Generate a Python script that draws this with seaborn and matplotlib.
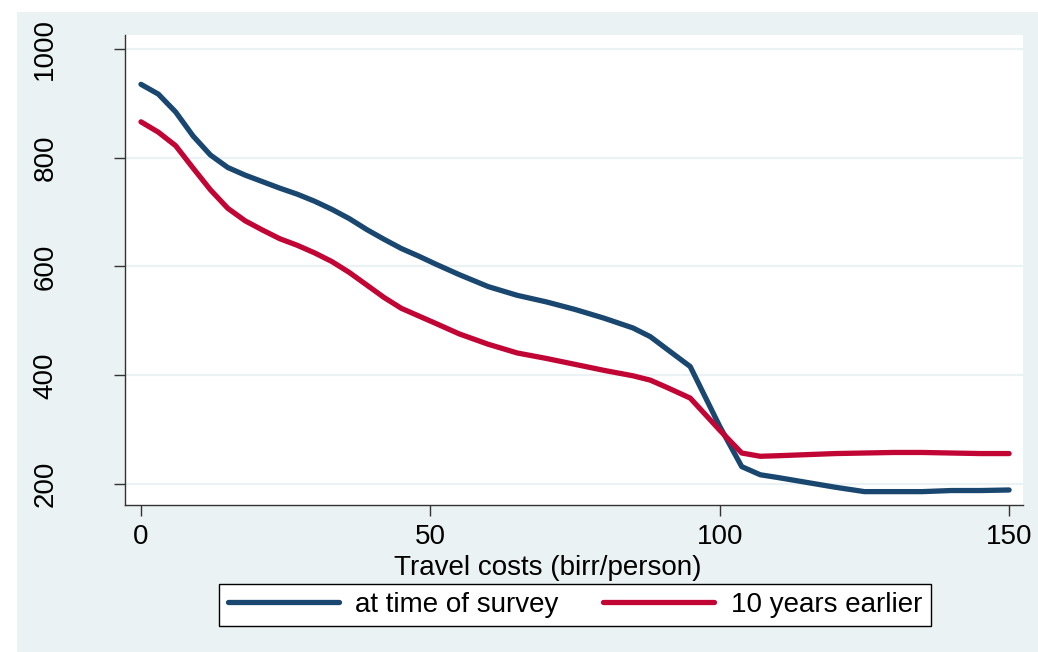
import numpy as np
import pandas as pd
import seaborn as sns
import matplotlib.pyplot as plt
from matplotlib.patches import Rectangle

# travel cost (birr/person) and visits for both periods
travel_cost = [0, 3, 6, 9, 12, 15, 18, 21, 24, 27, 30, 33, 36, 39, 42, 45, 48,
               51, 55, 60, 65, 70, 75, 80, 85, 88, 91, 94.9, 100, 103.8, 107,
               110, 115, 120, 125, 130, 135, 140, 145, 150]
at_survey = [935, 917, 884, 840, 805, 782, 768, 756, 744, 733, 720, 705, 688,
             668, 650, 633, 619, 604, 585, 563, 547, 535, 521, 505, 487, 471,
             447, 416, 306, 232, 217, 212, 203, 194, 186, 186, 186, 188, 188, 189]
ten_years_earlier = [866, 847, 822, 781, 741, 707, 684, 667, 651, 639, 625, 609,
                     589, 566, 543, 523, 509, 495, 476, 457, 441, 431, 420, 409,
                     399, 391, 377, 358, 299, 257, 251, 252, 254, 256, 257, 258,
                     258, 257, 256, 256]
series_names = ["at time of survey", "10 years earlier"]
y_ticks = [200, 400, 600, 800, 1000]
x_ticks = [0, 50, 100, 150]

BG = "#EAF2F3"
colors = {"at time of survey": "#1A476F", "10 years earlier": "#C10534"}

df = pd.concat([
    pd.DataFrame({"cost": travel_cost, "value": at_survey, "series": series_names[0]}),
    pd.DataFrame({"cost": travel_cost, "value": ten_years_earlier, "series": series_names[1]}),
])

sns.set_theme(style="ticks")
plt.rcParams['font.family'] = ['Liberation Sans', 'DejaVu Sans']
plt.rcParams['text.color'] = 'black'

W, H = 1038, 652
FS = 20
fig = plt.figure(figsize=(W / 100, H / 100), dpi=100, facecolor="white")
fig.patches.append(Rectangle((17 / W, 0), 1 - 17 / W, 1 - 12 / H,
                             transform=fig.transFigure, facecolor=BG,
                             edgecolor="none", zorder=-10))
ax = fig.add_axes([125 / W, 1 - 505 / H, (1023 - 125) / W, (505 - 35) / H])
ax.set_zorder(2)
ax.set_facecolor("white")

sns.lineplot(data=df, x="cost", y="value", hue="series", hue_order=series_names,
             palette=colors, linewidth=3.8, ax=ax, legend=False)

ax.set_xlim(-2.76, 152.4)
ax.set_ylim(161.4, 1025.7)
ax.set_xticks(x_ticks)
ax.set_yticks(y_ticks)
ax.set_yticklabels([str(v) for v in y_ticks], rotation=90, va="center")
for y in y_ticks:
    ax.axhline(y, color=BG, lw=1.6, zorder=0)

for s in ["top", "right"]:
    ax.spines[s].set_visible(False)
for s in ["left", "bottom"]:
    ax.spines[s].set_color("#333333")
    ax.spines[s].set_linewidth(1.0)
ax.tick_params(axis="both", direction="out", length=8, width=1.0,
               color="#333333", labelsize=FS, labelcolor="black")
ax.tick_params(axis="x", pad=6)
ax.tick_params(axis="y", pad=40)
ax.set_xlabel("")
ax.set_ylabel("")

fig.text(548 / W, 1 - 568 / H, "Travel costs (birr/person)", ha="center",
         va="center", fontsize=FS, color="black", zorder=3)

handles = [plt.Line2D([], [], color=colors[n], lw=3.8) for n in series_names]
leg = fig.legend(handles, series_names, loc="center", ncol=2,
                 bbox_to_anchor=(575 / W, 1 - 605 / H),
                 bbox_transform=fig.transFigure, fontsize=FS,
                 frameon=True, fancybox=False, framealpha=1,
                 handlelength=4.0, handletextpad=0.6, columnspacing=1.6,
                 borderpad=0.3, borderaxespad=0)
leg.set_zorder(3)
leg.get_frame().set_edgecolor("black")
leg.get_frame().set_linewidth(1.0)
for t in leg.get_texts():
    t.set_color("black")

fig.savefig("out.png", dpi=100, facecolor="white")
